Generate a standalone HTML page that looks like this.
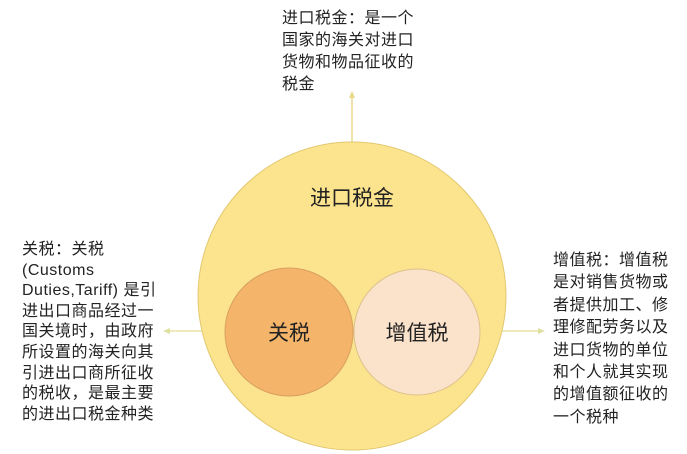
<!DOCTYPE html>
<html><head><meta charset="utf-8"><style>
body{margin:0;width:687px;height:454px;background:#fff;position:relative;overflow:hidden;font-family:"Liberation Sans","Noto Sans CJK SC",sans-serif;color:#222}
.t{position:absolute;font-size:16px;letter-spacing:0.5px;white-space:nowrap}
</style></head><body>
<svg width="687" height="454" style="position:absolute;left:0;top:0">
<line x1="352" y1="97" x2="352" y2="143" stroke="#e8d98a" stroke-width="1.5"/>
<polygon points="352,91 349,98 355,98" fill="#e8d98a"/>
<line x1="168" y1="331" x2="540" y2="331" stroke="#e8e4a8" stroke-width="1.5"/>
<polygon points="163,331 170,328 170,334" fill="#dde0a0"/>
<polygon points="545,331 538,328 538,334" fill="#dde0a0"/>
<circle cx="352" cy="296" r="154" fill="#fce48f" stroke="#e2c870" stroke-width="1"/>
<circle cx="289" cy="332" r="64" fill="#f4b46a" stroke="#d9a060" stroke-width="1"/>
<circle cx="417" cy="332" r="63" fill="#fbe3cb" stroke="#dcc08a" stroke-width="1"/>
<text x="352" y="205" font-size="21" text-anchor="middle" fill="#222" font-family="Liberation Sans,Noto Sans CJK SC,sans-serif">进口税金</text>
<text x="289" y="340" font-size="21" text-anchor="middle" fill="#222" font-family="Liberation Sans,Noto Sans CJK SC,sans-serif">关税</text>
<text x="417" y="340" font-size="21" text-anchor="middle" fill="#222" font-family="Liberation Sans,Noto Sans CJK SC,sans-serif">增值税</text>
</svg>
<div class="t" style="left:282px;top:8px;line-height:22px">进口税金：是一个<br>国家的海关对进口<br>货物和物品征收的<br>税金</div>
<div class="t" style="left:22px;top:240px;line-height:20.6px">关税：关税<br>(Customs<br>Duties,Tariff) 是引<br>进出口商品经过一<br>国关境时，由政府<br>所设置的海关向其<br>引进出口商所征收<br>的税收，是最主要<br>的进出口税金种类</div>
<div class="t" style="left:553px;top:250px;line-height:22.4px">增值税：增值税<br>是对销售货物或<br>者提供加工、修<br>理修配劳务以及<br>进口货物的单位<br>和个人就其实现<br>的增值额征收的<br>一个税种</div>
</body></html>
